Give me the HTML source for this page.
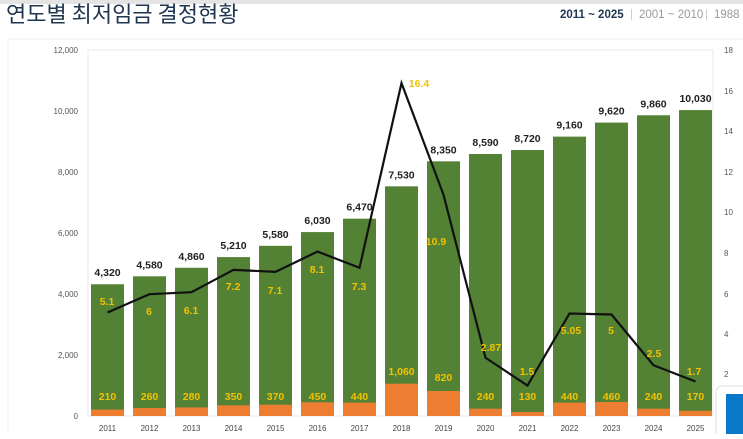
<!DOCTYPE html>
<html><head><meta charset="utf-8"><style>
body{margin:0;width:743px;height:434px;overflow:hidden;background:#fff;font-family:"Liberation Sans","Noto Sans CJK KR",sans-serif}
</style></head><body>
<svg width="743" height="434" xmlns="http://www.w3.org/2000/svg" font-family="Liberation Sans, Noto Sans CJK KR, sans-serif">
<rect x="0" y="0" width="743" height="4" fill="#e4e4e4"/>
<text x="6" y="22" font-size="22" fill="#1f3550" font-family="Noto Sans CJK KR, sans-serif">연도별 최저임금 결정현황</text>
<text x="560" y="18" font-size="11.5" fill="#1f3550" font-weight="bold" font-family="Liberation Sans Narrow, Liberation Sans, sans-serif">2011 ~ 2025</text>
<text x="630" y="18" font-size="11.5" fill="#ccc">|</text>
<text x="639" y="18" font-size="11.5" fill="#999" font-family="Liberation Sans Narrow, Liberation Sans, sans-serif">2001 ~ 2010</text>
<text x="705" y="18" font-size="11.5" fill="#ccc">|</text>
<text x="714" y="18" font-size="11.5" fill="#999" font-family="Liberation Sans Narrow, Liberation Sans, sans-serif">1988</text>
<rect x="8" y="39" width="745" height="410" fill="none" stroke="#eee"/>
<rect x="88" y="50" width="625" height="366" fill="none" stroke="#eaeaea"/>
<g font-size="8" fill="#555" text-anchor="end">
<text x="78" y="53">12,000</text><text x="78" y="114">10,000</text><text x="78" y="175">8,000</text><text x="78" y="236">6,000</text><text x="78" y="297">4,000</text><text x="78" y="358">2,000</text><text x="78" y="419">0</text>
</g>
<g font-size="8" fill="#555">
<text x="724" y="53">18</text><text x="724" y="94">16</text><text x="724" y="134">14</text><text x="724" y="175">12</text><text x="724" y="215">10</text><text x="724" y="256">8</text><text x="724" y="297">6</text><text x="724" y="337">4</text><text x="724" y="377">2</text>
</g>
<g id="bars"></g>
<rect x="716" y="386" width="40" height="60" rx="6" fill="#fff" stroke="#ddd"/>
<rect x="726" y="394" width="30" height="50" fill="#0a78c8"/>
</svg>
<script>
var yrs=[2011,2012,2013,2014,2015,2016,2017,2018,2019,2020,2021,2022,2023,2024,2025];
var w=[4320,4580,4860,5210,5580,6030,6470,7530,8350,8590,8720,9160,9620,9860,10030];
var inc=[210,260,280,350,370,450,440,1060,820,240,130,440,460,240,170];
var r=[5.1,6,6.1,7.2,7.1,8.1,7.3,16.4,10.9,2.87,1.5,5.05,5,2.5,1.7];
var g=document.getElementById("bars"),s="";
function Y(v){return 416-v*366/12000}
function R(v){return 416-v*20.3}
function f(n){return n.toLocaleString("en-US")}
var pts=[];
var incY=[400,400,400,400,400,400,400,375,381,400,400,400,400,400,400];
for(var i=0;i<15;i++){var cx=107.5+i*42;
s+='<rect x="'+(cx-16.5)+'" y="'+Y(w[i])+'" width="33" height="'+(416-Y(w[i]))+'" fill="#548235"/>';
s+='<rect x="'+(cx-16.5)+'" y="'+Y(inc[i])+'" width="33" height="'+(416-Y(inc[i]))+'" fill="#ed7d31"/>';
s+='<text x="'+cx+'" y="'+(Y(w[i])-8)+'" font-size="10.5" font-weight="bold" text-anchor="middle" fill="#222">'+f(w[i])+'</text>';
s+='<text x="'+cx+'" y="'+incY[i]+'" font-size="10.5" font-weight="bold" text-anchor="middle" fill="#f2c200">'+f(inc[i])+'</text>';
s+='<text x="'+cx+'" y="431" font-size="8" text-anchor="middle" fill="#444">'+yrs[i]+'</text>';
pts.push(cx+','+R(r[i]));}
s+='<polyline points="'+pts.join(' ')+'" fill="none" stroke="#111" stroke-width="2.2"/>';
var lab=[[107,305],[149,315],[191,314],[233,290],[275,294],[317,273],[359,290],[419,87],[436,245],[491,351],[527,375],[571,334],[611,334],[654,357],[694,375]];
for(var i=0;i<15;i++)s+='<text x="'+lab[i][0]+'" y="'+lab[i][1]+'" font-size="10.5" font-weight="bold" text-anchor="middle" fill="#f2c200">'+r[i]+'</text>';
g.innerHTML=s;
</script>
</body></html>
